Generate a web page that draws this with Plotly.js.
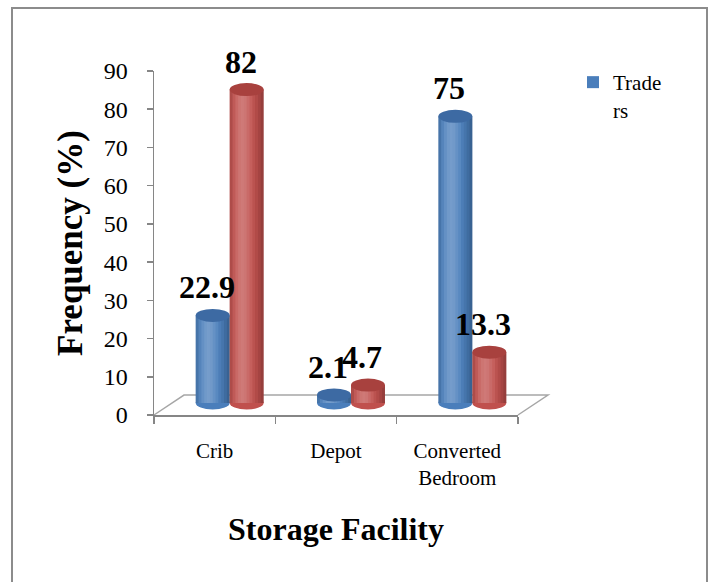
<!DOCTYPE html>
<html>
<head>
<meta charset="utf-8">
<script src="https://cdn.plot.ly/plotly-3.0.1.min.js"></script>
<style>
  html, body { margin: 0; padding: 0; background: #ffffff; }
  #chart { width: 712px; height: 582px; }
</style>
</head>
<body>
<div id="chart"></div>
<script>
// Storage facility frequencies (%) by category, two series.
const categories = ["Crib", "Depot", "Converted Bedroom"];
const tickLabels = ["Crib", "Depot", "Converted<br>Bedroom"];
const traders = [22.9, 2.1, 75];
const series2 = [82, 4.7, 13.3];
const seriesNames = ["Trade<br>rs", "Series 2"];
const yTicks = [0, 10, 20, 30, 40, 50, 60, 70, 80, 90];

// Page geometry (pixels)
const W = 712, H = 582;
const M = { l: 154, r: 194, t: 71, b: 167 };
const plotW = W - M.l - M.r;          // 364
const plotH = H - M.t - M.b;          // 344
const yMax = 90;
const pxPerUnit = plotH / yMax;
const pxPerCat = plotW / categories.length;

// Pseudo-3D depth: bars sit a little back/right of the front axis plane
const depthX = 15, depthY = 12;

const font = "'Liberation Serif', 'Times New Roman', serif";
const colors = ["#4a7ebb", "#c0504d"];
const capColors = ["#3d6aa3", "#a8413e"];
const barW = 0.28;
const offsets = [-barW, 0];

const px2paperX = px => (px - M.l) / plotW;
const px2paperY = py => (M.t + plotH - py) / plotH;

const allSeries = [traders, series2];
const traces = [];

// Hidden trace that fixes the category axis at the front plane
traces.push({
  type: "scatter", mode: "none", x: categories, y: categories.map(() => 0),
  xaxis: "x", yaxis: "y", showlegend: false, hoverinfo: "skip"
});

// Main cylinder bodies
allSeries.forEach((vals, s) => {
  traces.push({
    type: "bar", x: categories, y: vals, name: seriesNames[s],
    xaxis: "x2", yaxis: "y2",
    offset: offsets[s], width: barW,
    marker: { color: colors[s], line: { width: 0 } },
    showlegend: s === 0, hoverinfo: "y"
  });
});

// Cylinder shading: thin translucent strips laid over each body
const nStrips = 12;
allSeries.forEach((vals, s) => {
  for (let j = 0; j < nStrips; j++) {
    const t = (j + 0.5) / nStrips;
    const light = 0.24 * Math.exp(-Math.pow((t - 0.38) / 0.24, 2));
    const dark = 0.26 * Math.pow(Math.max(0, (t - 0.6) / 0.4), 1.6) +
                 0.14 * Math.max(0, (0.15 - t) / 0.15);
    const stripW = barW / nStrips;
    const stripOff = offsets[s] + j * stripW;
    if (light > 0.01) {
      traces.push({
        type: "bar", x: categories, y: vals, xaxis: "x2", yaxis: "y2",
        offset: stripOff, width: stripW * 1.02,
        marker: { color: `rgba(255,255,255,${light.toFixed(3)})`, line: { width: 0 } },
        showlegend: false, hoverinfo: "skip"
      });
    }
    if (dark > 0.01) {
      traces.push({
        type: "bar", x: categories, y: vals, xaxis: "x2", yaxis: "y2",
        offset: stripOff, width: stripW * 1.02,
        marker: { color: `rgba(0,0,0,${dark.toFixed(3)})`, line: { width: 0 } },
        showlegend: false, hoverinfo: "skip"
      });
    }
  }
});

// Elliptical ends of the cylinders, placed from the same values
const capRy = 6.5 / pxPerUnit;
const shapes = [];
allSeries.forEach((vals, s) => {
  vals.forEach((v, i) => {
    const x0 = i + offsets[s], x1 = x0 + barW;
    shapes.push({
      type: "circle", xref: "x2", yref: "y2", layer: "below",
      x0: x0, x1: x1, y0: -capRy, y1: capRy,
      fillcolor: colors[s], line: { width: 0 }
    });
    shapes.push({
      type: "circle", xref: "x2", yref: "y2", layer: "above",
      x0: x0, x1: x1, y0: v - capRy, y1: v + capRy,
      fillcolor: capColors[s], line: { width: 0 }
    });
  });
});

// Floor of the 3-D plot area
const floorFL = [M.l, M.t + plotH];
const floorBL = [M.l + 30, M.t + plotH - 20];
const floorBR = [M.l + plotW + 30, M.t + plotH - 20];
const floorFR = [M.l + plotW, M.t + plotH];
const pathOf = pts => pts.map((p, k) =>
  (k ? "L" : "M") + px2paperX(p[0]).toFixed(4) + "," + px2paperY(p[1]).toFixed(4)).join(" ");
shapes.push({
  type: "path", xref: "paper", yref: "paper", layer: "below",
  path: pathOf([floorFL, floorBL, floorBR, floorFR]),
  line: { color: "#a6a6a6", width: 1.5 }
});

// Outer chart border
shapes.push({
  type: "rect", xref: "paper", yref: "paper", layer: "above",
  x0: px2paperX(12), x1: px2paperX(707), y0: px2paperY(600), y1: px2paperY(8),
  line: { color: "#8c8c8c", width: 2 }
});

// Value labels above each cylinder
const annotations = [];
allSeries.forEach((vals, s) => {
  vals.forEach((v, i) => {
    annotations.push({
      xref: "x2", yref: "y2", x: i + offsets[s] + barW / 2, y: v,
      text: String(v), showarrow: false,
      xanchor: "center", yanchor: "bottom", xshift: -6, yshift: 8,
      font: { family: font, size: 32, color: "#000000", weight: "bold" }
    });
  });
});

const layout = {
  width: W, height: H,
  margin: M,
  paper_bgcolor: "#ffffff", plot_bgcolor: "rgba(0,0,0,0)",
  barmode: "overlay",
  showlegend: true,
  legend: {
    x: px2paperX(573), y: px2paperY(62), xanchor: "left", yanchor: "top",
    valign: "top",
    font: { family: font, size: 21, color: "#000000" },
    bgcolor: "rgba(0,0,0,0)", itemclick: false
  },
  xaxis: {
    type: "category", range: [-0.5, categories.length - 0.5],
    tickvals: categories, ticktext: tickLabels,
    tickson: "boundaries", ticks: "outside", ticklen: 7, tickcolor: "#868686", tickwidth: 1.5,
    showline: true, linecolor: "#868686", linewidth: 1.5,
    showgrid: false, zeroline: false,
    ticklabelstandoff: 16,
    tickfont: { family: font, size: 21, color: "#000000" },
    title: { text: "Storage Facility", standoff: 28,
             font: { family: font, size: 32, color: "#000000", weight: "bold" } },
    fixedrange: true
  },
  yaxis: {
    range: [0, yMax], tickvals: yTicks,
    ticks: "outside", ticklen: 6, tickcolor: "#868686", tickwidth: 1.5,
    showline: true, linecolor: "#868686", linewidth: 1.5,
    showgrid: false, zeroline: false,
    ticklabelstandoff: 14,
    tickfont: { family: font, size: 24, color: "#000000" },
    title: { text: "Frequency (%)", standoff: 10,
             font: { family: font, size: 35, color: "#000000", weight: "bold" } },
    fixedrange: true
  },
  xaxis2: {
    type: "category", overlaying: "x",
    range: [-0.5 - depthX / pxPerCat, categories.length - 0.5 - depthX / pxPerCat],
    visible: false, fixedrange: true
  },
  yaxis2: {
    overlaying: "y",
    range: [-depthY / pxPerUnit, yMax - depthY / pxPerUnit],
    visible: false, fixedrange: true
  },
  shapes: shapes,
  annotations: annotations
};

Plotly.newPlot("chart", traces, layout, { displayModeBar: false, staticPlot: true });
</script>
</body>
</html>
